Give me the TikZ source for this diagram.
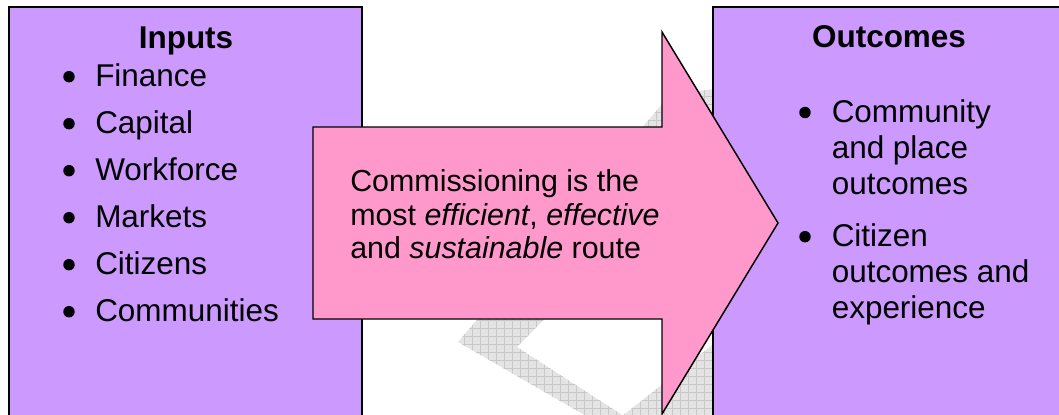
\documentclass[tikz,border=0pt]{standalone}
\usepackage{fontspec}
\setmainfont{Liberation Sans}
\definecolor{boxpurple}{HTML}{CC99FF}
\definecolor{arrowpink}{HTML}{FF99CC}
\definecolor{wmfill}{HTML}{E4E4E4}
\definecolor{wmline}{HTML}{C8C8C8}
\begin{document}
\begin{tikzpicture}[x=0.75pt,y=-0.75pt,
  txt/.style={inner sep=0pt, anchor=base west, font=\fontsize{23.6}{27}\selectfont},
  headtxt/.style={inner sep=0pt, anchor=base, font=\fontsize{23.6}{27}\selectfont\bfseries},
  atxt/.style={inner sep=0pt, anchor=base west, font=\fontsize{22.8}{26}\selectfont},
  bul/.style={circle, fill=black, inner sep=0pt, minimum size=8.6pt},
  shapeline/.style={draw=black, line width=1.1pt, line join=miter},
  wmgrid/.style={draw=wmline, line width=0.45pt}]
\useasboundingbox (0,0) rectangle (1059,414);
\clip (0,0) rectangle (1059,414);
% watermark
\begin{scope}
  \clip (458,342) -- (670,95) -- (779,80) -- (517,347) -- (630,420) -- (593,420) -- cycle
        (612,424) -- (735,327) -- (790,380) -- (700,424) -- cycle;
  \fill[wmfill] (440,60) rectangle (800,430);
  \foreach \gx in {440,448,...,800} \draw[wmgrid] (\gx,56) -- (\gx,432);
  \foreach \gy in {56,64,...,432} \draw[wmgrid] (440,\gy) -- (800,\gy);
\end{scope}
% boxes
\draw[shapeline, fill=boxpurple] (9,7) rectangle (362,440);
\draw[shapeline, fill=boxpurple] (713,7) rectangle (1075,440);
% arrow
\draw[shapeline, fill=arrowpink] (313,127) -- (662,127) -- (662,32) -- (778,223)
   -- (662,414) -- (662,319) -- (313,319) -- cycle;
% inputs
\node[headtxt] (inputs) at (186,48.7) {Inputs};
\node[bul] (b1) at (69,76.7) {};
\node[txt] (i1) at (95,86.7) {Finance};
\node[bul] (b2) at (69,123.7) {};
\node[txt] (i2) at (95,133.7) {Capital};
\node[bul] (b3) at (69,170.7) {};
\node[txt] (i3) at (95,180.7) {Workforce};
\node[bul] (b4) at (69,217.7) {};
\node[txt] (i4) at (95,227.7) {Markets};
\node[bul] (b5) at (69,264.7) {};
\node[txt] (i5) at (95,274.7) {Citizens};
\node[bul] (b6) at (69,311.7) {};
\node[txt] (i6) at (95,321.7) {Communities};
% outcomes
\node[headtxt] (outcomes) at (889,47) {Outcomes};
\node[bul] (c1) at (805,112.5) {};
\node[txt] (o1a) at (831.5,122.5) {Community};
\node[txt] (o1b) at (831.5,158.5) {and place};
\node[txt] (o1c) at (831.5,194.5) {outcomes};
\node[bul] (c2) at (805,236.7) {};
\node[txt] (o2a) at (831.5,246.7) {Citizen};
\node[txt] (o2b) at (831.5,282.5) {outcomes and};
\node[txt] (o2c) at (831.5,318.3) {experience};
% arrow text
\node[atxt] (a1) at (350,191.7) {Commissioning is the};
\node[atxt] (a2) at (350,225.2) {most \textit{efficient}, \textit{effective}};
\node[atxt] (a3) at (350,258.7) {and \textit{sustainable} route};
\end{tikzpicture}
\end{document}
